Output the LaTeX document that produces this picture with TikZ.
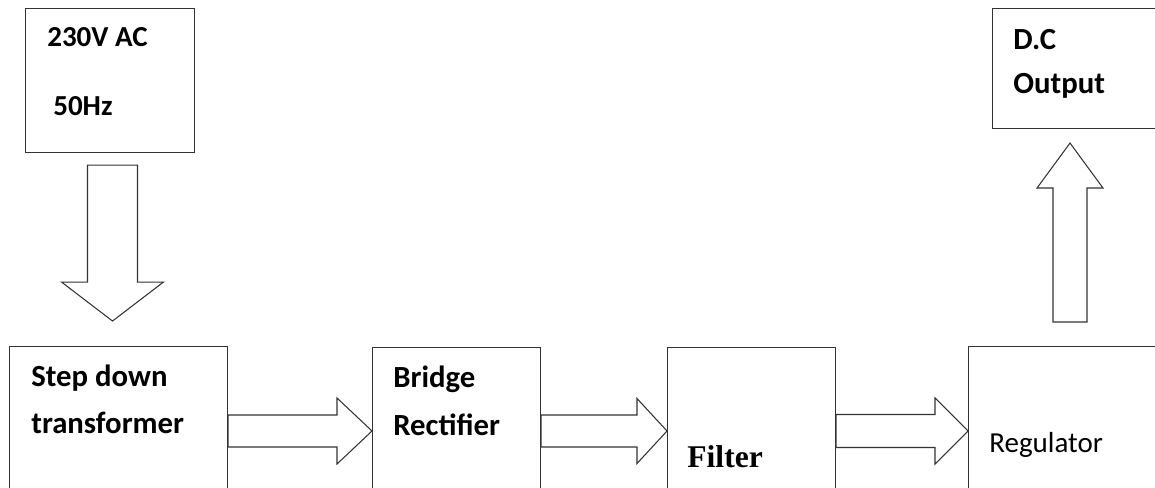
\documentclass[tikz,border=0pt]{standalone}
\usepackage{fontspec}
\setmainfont{Carlito}
\newfontfamily\filterfont{Liberation Serif}
\usetikzlibrary{calc}

\tikzset{
  block/.style={draw=black!80, line width=0.6pt, inner sep=0pt, anchor=north west},
  fat/.style={draw=black!80, line width=0.6pt, line join=miter},
  lbl/.style={anchor=base west, inner sep=0pt, font=\fontsize{17.5}{21}\selectfont\bfseries},
  thin lbl/.style={anchor=base west, inner sep=0pt, font=\fontsize{16.5}{20}\selectfont},
}

% hollow block arrow: tail, tip, half shaft, half head, head length
\newcommand\fatarrow[5]{%
  \coordinate (hb) at ($#2!#5!#1$);
  \draw[fat] ($#1!#3!90:#2$) -- ($(hb)!#3!90:#2$) -- ($(hb)!#4!90:#2$) -- #2
    -- ($(hb)!#4!-90:#2$) -- ($(hb)!#3!-90:#2$) -- ($#1!#3!-90:#2$) -- cycle;
}

\begin{document}
\begin{tikzpicture}[x=0.02cm,y=-0.02cm]
	\useasboundingbox (0,0) rectangle (1155,487);
	\clip (0,0) rectangle (1155,487);

	% supply
	\node[block, minimum width=3.38cm, minimum height=2.88cm] (src) at (25,8) {};
	\node[thin lbl, font=\fontsize{16.5}{20}\selectfont\bfseries] (srcV) at (47,46) {230V AC};
	\node[thin lbl, font=\fontsize{16.5}{20}\selectfont\bfseries] (srcF) at (53,115) {50Hz};

	% output
	\node[block, minimum width=4cm, minimum height=2.4cm] (dc) at (992,8) {};
	\node[lbl] (dcA) at (1013,49) {D.C};
	\node[lbl] (dcB) at (1013,93) {Output};

	% chain
	\node[block, minimum width=4.36cm, minimum height=3.2cm] (step) at (9,346) {};
	\node[lbl] (stepA) at (31,386) {Step down};
	\node[lbl] (stepB) at (31,433) {transformer};

	\node[block, minimum width=3.36cm, minimum height=3.2cm] (bridge) at (372,347) {};
	\node[lbl] (bridgeA) at (393,387) {Bridge};
	\node[lbl] (bridgeB) at (393,435) {Rectifier};

	\node[block, minimum width=3.36cm, minimum height=3.2cm] (filter) at (667,347) {};
	\node[lbl, font=\fontsize{18}{21}\selectfont\filterfont\bfseries] (filterA) at (687,467) {Filter};

	\node[block, minimum width=4cm, minimum height=3.2cm] (reg) at (968,346) {};
	\node[thin lbl] (regA) at (989,452) {Regulator};

	% arrows
	\coordinate (downT) at ($(src.south)+(2.5,12)$);
	\coordinate (downP) at ($(src.south)+(2.5,168)$);
	\fatarrow{(downT)}{(downP)}{0.5cm}{1.02cm}{0.78cm}
	\fatarrow{(step.east |- 0,431)}{(bridge.west |- 0,431)}{0.32cm}{0.66cm}{0.7cm}
	\fatarrow{(bridge.east |- 0,431)}{(filter.west |- 0,431)}{0.32cm}{0.65cm}{0.6cm}
	\fatarrow{(filter.east |- 0,431)}{(reg.west |- 0,431)}{0.33cm}{0.66cm}{0.66cm}
	\coordinate (upT) at (1070,322);
	\coordinate (upP) at ($(dc.south -| upT)+(0,14)$);
	\fatarrow{(upT)}{(upP)}{0.34cm}{0.66cm}{0.9cm}
\end{tikzpicture}
\end{document}
